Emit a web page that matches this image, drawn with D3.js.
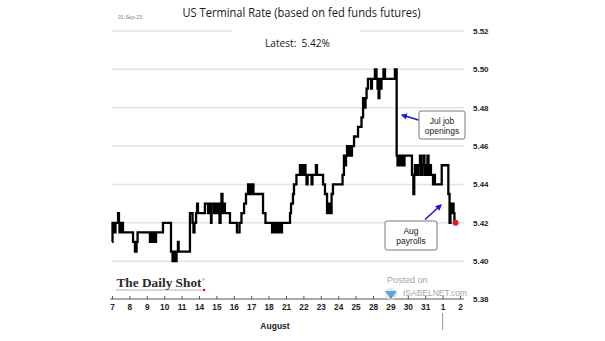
<!DOCTYPE html>
<html>
<head>
<meta charset="utf-8">
<script src="https://cdn.jsdelivr.net/npm/d3@7"></script>
<style>
  html, body { margin: 0; padding: 0; background: #fff; }
  svg { display: block; }
</style>
</head>
<body>
<svg id="chart" width="605" height="341"></svg>
<script>
// ---- data ----
const dayLabels = ["7","8","9","10","11","14","15","16","17","18","21","22","23","24","25","28","29","30","31","1","2"];
const yTicks = [5.38, 5.40, 5.42, 5.44, 5.46, 5.48, 5.50, 5.52];
// position in trading days since 7 Aug (fractional = intraday)
const dayPos = [
  0.00,0.03,0.14,0.20,0.35,0.40,0.43,0.46,0.49,0.52,0.55,0.58,0.63,1.21,1.32,1.41,1.47,
  2.18,2.24,2.27,2.33,2.36,2.41,2.47,2.53,2.93,3.39,3.48,3.53,3.56,3.62,3.65,3.71,3.79,3.83,
  4.48,4.63,4.68,4.74,4.83,4.89,4.94,5.34,5.52,5.58,5.69,5.72,5.86,5.92,6.01,6.06,6.18,6.24,
  6.29,6.35,6.44,6.49,6.78,7.18,7.33,7.44,7.59,7.70,7.82,7.87,7.93,7.99,8.05,8.13,8.68,8.82,
  9.20,9.25,9.31,9.40,9.43,9.51,9.54,9.63,9.68,9.77,10.23,10.29,10.40,10.46,10.60,10.80,10.86,
  10.92,10.98,11.06,11.12,11.18,11.24,11.47,11.52,11.72,11.78,12.13,12.24,12.36,12.44,12.50,
  12.62,12.70,13.25,13.33,13.39,13.45,13.51,13.62,13.68,13.74,13.79,13.91,14.14,14.34,14.43,
  14.51,14.57,14.63,14.71,14.89,14.94,15.11,15.20,15.26,15.32,15.37,15.43,15.49,15.60,15.69,
  16.26,16.36,16.41,16.47,16.52,16.58,16.64,16.70,16.75,16.81,17.24,17.32,17.37,17.41,17.53,
  17.62,17.70,17.76,17.82,17.90,17.96,18.02,18.08,18.13,18.19,18.25,18.33,18.45,18.51,18.56,
  18.95,19.33,19.40,19.45,19.51,19.57,19.63,19.68,19.74
];
const terminalRate = [
  5.410,5.420,5.415,5.420,5.425,5.420,5.415,5.420,5.415,5.420,5.415,5.420,5.415,5.410,5.405,5.410,5.415,
  5.410,5.415,5.410,5.415,5.410,5.415,5.410,5.415,5.420,5.405,5.400,5.405,5.400,5.405,5.400,5.405,5.410,5.405,
  5.425,5.420,5.415,5.420,5.425,5.430,5.425,5.430,5.425,5.430,5.420,5.430,5.425,5.430,5.425,5.430,5.420,5.430,
  5.435,5.425,5.430,5.425,5.420,5.415,5.420,5.425,5.430,5.435,5.440,5.435,5.440,5.435,5.440,5.435,5.425,5.420,
  5.415,5.420,5.415,5.420,5.415,5.420,5.415,5.420,5.415,5.420,5.425,5.430,5.435,5.440,5.445,5.450,5.445,
  5.450,5.445,5.450,5.445,5.440,5.445,5.440,5.445,5.450,5.445,5.440,5.435,5.425,5.430,5.425,
  5.435,5.440,5.445,5.455,5.450,5.455,5.460,5.455,5.460,5.455,5.460,5.465,5.470,5.475,5.485,
  5.480,5.485,5.490,5.495,5.490,5.495,5.500,5.495,5.490,5.485,5.495,5.490,5.495,5.500,5.495,
  5.500,5.455,5.450,5.455,5.450,5.455,5.450,5.455,5.450,5.455,5.445,5.435,5.445,5.450,5.445,
  5.450,5.455,5.445,5.450,5.455,5.445,5.450,5.445,5.455,5.445,5.450,5.445,5.440,5.445,5.440,
  5.450,5.435,5.420,5.430,5.425,5.430,5.425,5.420,5.420
];
const latestValue = "5.42%";

// ---- chart ----
const svg = d3.select("#chart");
const x = d3.scaleLinear().domain([0, dayLabels.length - 1]).range([112, 460]);
const y = d3.scaleLinear().domain([5.38, 5.52]).range([299.5, 31]);
const gridRight = 464;

// gridlines
svg.append("g").selectAll("line")
  .data(yTicks.filter(d => d > 5.38))
  .join("line")
  .attr("x1", 112).attr("x2", gridRight)
  .attr("y1", d => y(d)).attr("y2", d => y(d))
  .attr("stroke", "#e3e3e3").attr("stroke-width", 1.5);

// y labels on right
svg.append("g").selectAll("text")
  .data(yTicks)
  .join("text")
  .attr("x", 473).attr("y", d => y(d)).attr("dy", "0.35em")
  .attr("font-family", "Liberation Sans, Arial, sans-serif")
  .attr("font-weight", "bold").attr("font-size", 8)
  .attr("fill", "#222")
  .text(d => d.toFixed(2));

// latest label background + texts
svg.append("rect").attr("x", 232).attr("y", 24).attr("width", 128).attr("height", 14).attr("fill", "#fff");
svg.append("text").attr("x", 301.5).attr("y", 17.3).attr("text-anchor", "middle")
  .attr("font-family", "Open Sans, Liberation Sans, sans-serif").attr("font-size", 12.5)
  .attr("fill", "#1a1a1a").attr("textLength", 238).attr("lengthAdjust", "spacingAndGlyphs")
  .text("US Terminal Rate (based on fed funds futures)");
svg.append("text").attr("x", 118).attr("y", 19).attr("font-family", "Liberation Sans, Arial, sans-serif")
  .attr("font-size", 5.5).attr("fill", "#777").attr("textLength", 24).attr("lengthAdjust", "spacingAndGlyphs")
  .text("01-Sep-23");
svg.append("text").attr("x", 297.5).attr("y", 46.7).attr("text-anchor", "middle")
  .attr("font-family", "Open Sans, Liberation Sans, sans-serif").attr("font-size", 11)
  .attr("fill", "#1a1a1a").attr("textLength", 65).attr("lengthAdjust", "spacingAndGlyphs")
  .text("Latest:\u00a0 " + latestValue);

// x axis
svg.append("line").attr("x1", 110).attr("x2", gridRight).attr("y1", 299).attr("y2", 299)
  .attr("stroke", "#555").attr("stroke-width", 1);
const xAxis = d3.axisBottom(x)
  .tickValues(d3.range(dayLabels.length))
  .tickFormat(i => dayLabels[i])
  .tickSizeInner(-3).tickSizeOuter(0).tickPadding(5);
const gx = svg.append("g").attr("transform", "translate(0,299)").call(xAxis);
gx.select(".domain").remove();
gx.selectAll(".tick line").attr("stroke", "#555");
gx.selectAll(".tick text").attr("font-family", "Liberation Sans, Arial, sans-serif")
  .attr("font-weight", "bold").attr("font-size", 8.3).attr("fill", "#222");

svg.append("text").attr("x", 275).attr("y", 329).attr("text-anchor", "middle")
  .attr("font-family", "Liberation Sans, Arial, sans-serif").attr("font-weight", "bold")
  .attr("font-size", 8.5).attr("fill", "#222").text("August");
// month separator under "1"
svg.append("line").attr("x1", x(19)).attr("x2", x(19)).attr("y1", 313).attr("y2", 330)
  .attr("stroke", "#999").attr("stroke-width", 1);

// series line
const line = d3.line()
  .x((d, i) => x(dayPos[i]))
  .y(d => y(d))
  .curve(d3.curveStepAfter);
svg.append("path").datum(terminalRate)
  .attr("d", line).attr("fill", "none").attr("stroke", "#000").attr("stroke-width", 2.3)
  .attr("stroke-linejoin", "miter");
const last = terminalRate.length - 1;
svg.append("circle").attr("cx", x(dayPos[last])).attr("cy", y(terminalRate[last])).attr("r", 3)
  .attr("fill", "#e8141e");

// annotations
const defs = svg.append("defs");
defs.append("marker").attr("id", "ah").attr("viewBox", "0 0 10 10").attr("refX", 8).attr("refY", 5)
  .attr("markerWidth", 4).attr("markerHeight", 4).attr("orient", "auto")
  .append("path").attr("d", "M0,0L10,5L0,10z").attr("fill", "#1a1ad6");

function callout(bx, by, bw, bh, lines, ax1, ay1, ax2, ay2) {
  svg.append("line").attr("x1", ax1).attr("y1", ay1).attr("x2", ax2).attr("y2", ay2)
    .attr("stroke", "#1a1ad6").attr("stroke-width", 1.6).attr("marker-end", "url(#ah)");
  svg.append("rect").attr("x", bx).attr("y", by).attr("width", bw).attr("height", bh)
    .attr("rx", 2).attr("fill", "#fff").attr("stroke", "#555").attr("stroke-width", 0.8);
  lines.forEach((t, i) => {
    svg.append("text").attr("x", bx + bw / 2).attr("y", by + 12.5 + i * 10)
      .attr("text-anchor", "middle").attr("font-family", "Liberation Sans, Arial, sans-serif")
      .attr("font-size", 8.5).attr("fill", "#1a1a1a").text(t);
  });
}
callout(419, 111, 46, 28, ["Jul job", "openings"], 418.5, 120, 402, 115);
callout(385, 221, 52, 29, ["Aug", "payrolls"], 425, 219.5, 441, 205);

// The Daily Shot logo
svg.append("text").attr("x", 116.5).attr("y", 286.7)
  .attr("font-family", "Liberation Serif, DejaVu Serif, serif").attr("font-weight", "bold")
  .attr("font-size", 12).attr("fill", "#2a2a2a").attr("textLength", 85).attr("lengthAdjust", "spacingAndGlyphs")
  .text("The Daily Shot");
svg.append("text").attr("x", 202).attr("y", 281).attr("font-family", "Liberation Sans, sans-serif")
  .attr("font-size", 4).attr("fill", "#444").text("®");
svg.append("line").attr("x1", 116).attr("x2", 202).attr("y1", 290).attr("y2", 290)
  .attr("stroke", "#777").attr("stroke-width", 0.8).attr("stroke-dasharray", "1.5,0.6");
svg.append("circle").attr("cx", 204).attr("cy", 290).attr("r", 1.3).attr("fill", "#e01010");

// watermark
const wm = svg.append("g").attr("opacity", 0.75);
wm.append("text").attr("x", 387).attr("y", 283).attr("font-family", "Liberation Sans, Arial, sans-serif")
  .attr("font-size", 9).attr("fill", "#888").text("Posted on");
wm.append("circle").attr("cx", 391).attr("cy", 294).attr("r", 6).attr("fill", "#cfe3f3");
wm.append("path").attr("d", "M385,291 L397,291 L391,299 Z").attr("fill", "#2f87c8");
wm.append("text").attr("x", 403).attr("y", 295.5).attr("font-family", "Liberation Sans, Arial, sans-serif")
  .attr("font-size", 9.5).attr("fill", "#888").attr("textLength", 64).attr("lengthAdjust", "spacingAndGlyphs")
  .text("ISABELNET.com");
</script>
</body>
</html>
